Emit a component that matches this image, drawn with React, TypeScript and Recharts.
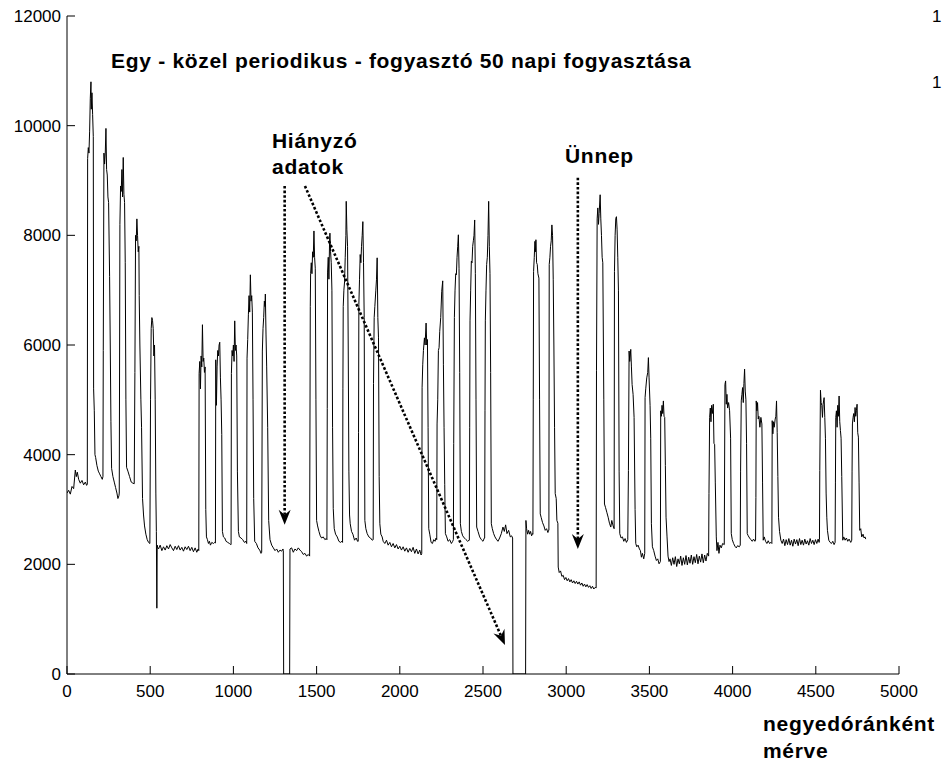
import React from 'react';
import { LineChart, Line, XAxis, YAxis, ReferenceLine } from 'recharts';

const FONT = "'Liberation Sans', Arial, Helvetica, sans-serif";

const xTicks = [0, 500, 1000, 1500, 2000, 2500, 3000, 3500, 4000, 4500, 5000];
const yTicks = [0, 2000, 4000, 6000, 8000, 10000, 12000];

type Pt = [number, number];

const week1: Pt[] = [
  [0,3300],[10,3350],[20,3280],[30,3420],[40,3380],[50,3720],[56,3600],[62,3680],[70,3550],[80,3480],[90,3530],[100,3450],[110,3500],[118,3440],
  [122,3460],[124,9400],[128,9600],[132,9500],[136,9900],[140,10500],[144,10800],[146,10300],[150,10600],[154,10200],[158,9800],[160,5200],[164,4800],[168,4000],[172,3950],[180,3800],[188,3700],[196,3650],[204,3600],[212,3550],
  [216,3600],[218,5900],[222,9500],[226,9300],[230,9500],[234,9950],[238,9200],[242,9100],[246,8700],[250,8600],[256,7250],[260,6000],[264,4600],[268,3750],[276,3600],[284,3500],[292,3400],[300,3300],[306,3200],[312,3250],
  [314,3300],[318,8200],[322,8900],[326,8800],[330,9200],[334,8700],[338,9420],[342,8750],[346,8600],[350,7500],[354,5000],[358,3770],[366,3700],[376,3600],[386,3500],[396,3480],[404,3470],
  [408,5500],[412,8000],[416,7900],[420,8300],[424,8000],[428,7700],[432,7800],[434,6900],[438,6000],[444,5000],[448,4500],[454,3200],[460,2900],[466,2700],[474,2550],[482,2450],[490,2400],[498,2380],
  [502,5000],[506,6300],[510,6500],[514,6450],[518,6300],[522,5800],[526,6000],[530,5000],[534,3300],[537,2600],[540,1200],[542,2350],[546,2300],
];

const week2: Pt[] = [
  [550,2280],[560,2350],[570,2250],[580,2320],[590,2260],[600,2340],[610,2280],[620,2360],[630,2300],[640,2250],[650,2330],[660,2270],[670,2340],[680,2260],[690,2310],[700,2240],[710,2320],[720,2270],[730,2330],[740,2250],[750,2310],[760,2230],[770,2300],[780,2220],[788,2280],
  [792,2250],[794,5480],[798,5700],[802,5200],[806,5800],[810,5600],[814,6370],[818,5700],[822,5760],[826,5500],[830,5600],[834,3000],[838,2500],[844,2450],[850,2380],[856,2420],[862,2350],[870,2400],[880,2380],[888,2400],
  [892,2390],[894,5730],[898,4900],[902,5600],[906,5900],[910,5800],[914,6000],[918,6050],[922,5400],[926,5000],[930,4370],[934,2600],[940,2500],[948,2480],[956,2420],[966,2400],[976,2380],[984,2360],
  [986,2360],[988,5480],[992,5900],[996,5800],[1000,6000],[1004,5700],[1008,6440],[1012,5900],[1016,6000],[1020,5800],[1024,3700],[1030,2600],[1036,2500],[1046,2480],[1056,2450],[1066,2400],[1076,2420],
  [1080,2380],[1082,5760],[1086,6100],[1090,6550],[1094,6900],[1098,6600],[1102,7280],[1106,6800],[1110,6900],[1114,6600],[1118,5000],[1122,3200],[1128,2420],[1138,2380],[1148,2300],[1158,2260],[1166,2200],
  [1170,2220],[1174,5890],[1178,6300],[1182,6500],[1186,6800],[1190,6700],[1192,6930],[1196,6200],[1200,5600],[1206,4500],[1212,2800],[1220,2450],[1230,2350],[1240,2300],[1250,2250],[1260,2280],[1270,2220],[1280,2260],[1290,2240],[1298,2280],
];

const week3: Pt[] = [
  [1300,2250],[1302,0],[1338,0],[1340,2280],[1350,2300],[1360,2220],[1370,2280],[1380,2250],[1390,2300],[1400,2260],[1410,2230],[1420,2180],[1430,2200],[1440,2150],[1450,2180],[1458,2150],
  [1462,6700],[1464,7300],[1468,7500],[1472,7300],[1476,7700],[1480,7600],[1484,8080],[1488,7600],[1492,7400],[1496,5000],[1500,2800],[1506,2700],[1514,2600],[1522,2520],[1530,2480],[1540,2500],[1550,2450],[1558,2470],
  [1562,2450],[1564,4840],[1566,7330],[1570,7600],[1574,7200],[1578,7900],[1580,8040],[1584,7700],[1588,7500],[1592,7000],[1596,4500],[1600,3020],[1606,2650],[1614,2550],[1624,2500],[1634,2420],[1644,2400],[1652,2420],
  [1656,2400],[1658,5200],[1660,6700],[1664,7000],[1668,7150],[1672,7600],[1676,8000],[1678,8620],[1682,8100],[1686,7800],[1690,6000],[1694,3700],[1698,2900],[1702,2740],[1710,2600],[1718,2550],[1728,2440],[1738,2480],[1746,2420],
  [1750,2420],[1752,4400],[1754,6740],[1758,7200],[1762,7650],[1766,7500],[1770,7800],[1774,8000],[1778,8250],[1782,7500],[1786,6500],[1790,2800],[1796,2650],[1804,2560],[1814,2500],[1824,2480],[1834,2440],
  [1840,2450],[1842,5300],[1846,6500],[1850,6700],[1856,7000],[1860,7200],[1864,7590],[1868,6500],[1872,6130],[1876,3600],[1880,2740],[1886,2550],[1894,2500],
];

const week4: Pt[] = [
  [1900,2420],[1910,2380],[1920,2440],[1930,2350],[1940,2400],[1950,2320],[1960,2380],[1970,2300],[1980,2360],[1990,2280],[2000,2330],[2010,2260],[2020,2320],[2030,2240],[2040,2300],[2050,2220],[2060,2290],[2070,2230],[2080,2310],[2090,2200],[2100,2280],[2110,2190],[2120,2260],[2128,2170],
  [2132,2200],[2134,5230],[2138,5650],[2142,5900],[2148,6130],[2152,6000],[2158,6400],[2162,6000],[2166,6100],[2170,4500],[2174,2650],[2180,2550],[2188,2400],[2196,2380],[2204,2450],[2212,2420],[2218,2480],
  [2222,2450],[2224,4560],[2228,5000],[2232,5900],[2236,5950],[2240,6250],[2246,6500],[2252,6980],[2258,7170],[2262,5650],[2266,4500],[2270,3460],[2274,2560],[2282,2500],[2290,2420],[2300,2450],[2310,2380],[2318,2420],
  [2322,2450],[2324,4200],[2328,6500],[2332,7000],[2336,7300],[2340,7280],[2344,7600],[2348,7800],[2352,8010],[2356,7400],[2360,5500],[2364,2740],[2370,2600],[2378,2520],[2388,2480],[2398,2450],[2408,2420],[2416,2440],
  [2418,2440],[2420,4500],[2422,6440],[2426,7000],[2430,7530],[2434,7500],[2438,7800],[2442,7900],[2446,8000],[2450,8280],[2454,7300],[2458,5000],[2462,2680],[2470,2600],[2480,2500],[2490,2450],[2500,2420],[2508,2480],
  [2510,2480],[2512,4800],[2514,6440],[2518,7000],[2522,7470],[2526,7600],[2530,8000],[2534,8620],[2538,7800],[2542,7300],[2546,5500],[2550,2740],[2556,2650],[2564,2560],[2572,2500],[2580,2460],[2590,2420],[2600,2480],[2610,2560],[2620,2680],[2628,2600],[2636,2720],[2644,2560],[2654,2620],[2664,2500],[2672,2520],[2678,2480],
];

const week5: Pt[] = [
  [2680,0],[2756,0],[2758,2800],[2762,2650],[2768,2550],[2774,2620],[2780,2550],[2786,2600],[2792,2520],[2798,2560],
  [2800,2550],[2802,5000],[2804,7340],[2808,7600],[2812,7890],[2816,7700],[2818,7920],[2822,7500],[2826,7470],[2830,7300],[2836,7220],[2840,5000],[2844,2920],[2850,2850],[2858,2760],[2866,2700],[2874,2620],[2882,2650],[2890,2580],[2894,2620],
  [2896,2620],[2898,7470],[2902,7600],[2906,7800],[2910,7900],[2914,8190],[2918,8000],[2922,7200],[2926,6000],[2930,4500],[2934,3290],[2940,3200],[2944,2800],[2950,2750],
  [2952,1950],[2958,1850],[2966,1880],[2974,1780],[2982,1800],[2990,1720],[2998,1760],[3006,1700],[3014,1740],[3022,1680],[3030,1720],[3038,1660],[3046,1700],[3054,1650],[3062,1690],[3070,1640],[3078,1680],[3086,1620],[3094,1660],[3102,1600],[3110,1640],[3118,1590],[3126,1630],[3134,1580],[3142,1610],[3150,1560],[3158,1600],[3166,1550],[3174,1580],[3180,1570],
];

const week6: Pt[] = [
  [3182,5530],[3186,8300],[3190,8500],[3194,8200],[3198,8400],[3204,8740],[3208,8300],[3212,8000],[3216,7600],[3220,7500],[3226,5000],[3230,3100],[3236,3040],[3244,2950],[3252,2860],[3260,2750],[3268,2680],[3274,2800],[3282,2700],[3288,2650],
  [3290,7340],[3294,8000],[3298,8310],[3302,8340],[3306,8100],[3310,7590],[3314,7000],[3318,3700],[3322,2560],[3330,2480],[3338,2500],[3346,2420],[3354,2470],[3362,2400],[3370,2450],
  [3374,3710],[3378,5890],[3382,5700],[3388,5920],[3392,5600],[3396,5280],[3402,5100],[3408,4680],[3414,3000],[3418,2380],[3424,2320],[3432,2350],[3440,2280],[3446,2250],[3452,2130],[3458,2200],[3466,2100],[3472,2200],
  [3474,5040],[3478,5200],[3484,5400],[3490,5500],[3494,5770],[3498,5400],[3504,4900],[3508,4300],[3512,2740],[3518,2320],[3526,2250],[3534,2150],[3542,2070],[3550,2100],[3558,2010],[3566,2050],
  [3568,4800],[3572,4700],[3576,4900],[3580,4750],[3584,4980],[3588,4700],[3592,4680],[3596,3800],[3600,2860],[3606,2500],[3612,2150],[3618,2050],
];

const week7: Pt[] = [
  [3624,2100],[3632,1980],[3640,2120],[3648,2000],[3656,2140],[3664,1960],[3672,2100],[3680,2010],[3688,2150],[3696,1980],[3704,2120],[3712,2000],[3720,2160],[3728,1990],[3736,2130],[3744,2020],[3752,2170],[3760,2000],[3768,2140],[3776,2030],[3784,2180],[3792,2010],[3800,2150],[3808,2040],[3816,2190],[3824,2030],[3832,2170],[3840,2060],[3848,2200],[3856,2150],
  [3858,3290],[3862,4680],[3866,4850],[3870,4600],[3874,4900],[3878,4750],[3884,4920],[3888,4200],[3892,4190],[3896,3500],[3902,2500],[3906,2250],[3912,2400],[3918,2200],[3924,2350],[3932,2300],[3940,2380],[3950,2360],
  [3954,5280],[3958,5345],[3962,4920],[3966,5100],[3970,4850],[3976,4950],[3982,4800],[3988,4300],[3992,2560],[3998,2450],[4006,2380],[4014,2330],[4022,2300],[4030,2340],[4040,2320],[4046,2350],
  [4048,3700],[4052,4980],[4056,5100],[4060,5224],[4064,4950],[4068,5300],[4072,5560],[4076,5160],[4080,5000],[4084,4200],[4088,2560],[4094,2520],[4102,2480],[4110,2450],[4118,2420],[4126,2460],[4134,2420],[4138,2440],
  [4140,3220],[4142,4980],[4146,4800],[4150,4950],[4154,4650],[4158,4700],[4164,4500],[4170,4680],[4176,4560],[4180,3500],[4184,2440],[4190,2500],[4198,2420],[4206,2380],[4214,2430],[4222,2380],[4230,2400],[4236,2380],
  [4238,4620],[4242,4380],[4246,4600],[4250,4500],[4256,4650],[4260,4700],[4264,4980],[4268,4400],[4272,3600],[4276,2860],[4282,2600],[4290,2440],
];

const week8: Pt[] = [
  [4298,2380],[4306,2460],[4314,2340],[4322,2450],[4330,2360],[4338,2470],[4346,2350],[4354,2440],[4362,2330],[4370,2460],[4378,2370],[4386,2450],[4394,2340],[4402,2470],[4410,2360],[4418,2440],[4426,2350],[4434,2460],[4442,2370],[4450,2430],[4458,2350],[4466,2470],[4474,2380],[4482,2440],[4490,2360],[4498,2450],[4506,2380],[4514,2460],[4520,2400],
  [4522,2450],[4524,3710],[4528,5175],[4532,4950],[4536,4900],[4540,4680],[4544,4920],[4550,5040],[4554,4680],[4558,4300],[4562,3300],[4566,2860],[4570,2620],[4578,2440],[4586,2400],[4594,2380],[4602,2420],[4610,2360],[4616,2400],
  [4618,3500],[4620,4680],[4624,4800],[4628,4500],[4632,4900],[4636,4700],[4640,5070],[4644,4600],[4648,4440],[4652,4300],[4656,3600],[4662,2440],[4668,2500],[4676,2440],[4684,2480],[4692,2420],[4700,2460],[4710,2400],[4716,2440],
  [4718,3700],[4720,4560],[4724,4680],[4728,4750],[4732,4600],[4736,4860],[4740,4700],[4744,4800],[4748,4920],[4752,4400],[4756,4320],[4760,3500],[4764,2620],[4770,2650],[4776,2500],[4784,2550],[4790,2480],[4796,2500],[4800,2460],
];

const series = [...week1, ...week2, ...week3, ...week4, ...week5, ...week6, ...week7, ...week8].map(([q, v]) => ({ q, v }));

// annotation arrows in data units: [fromX, fromY, toX, toY]
const arrowMissingA = [1308, 8900, 1308, 2720];
const arrowMissingB = [1430, 8900, 2632, 530];
const arrowHoliday = [3070, 9050, 3070, 2280];

const DottedArrow = (props: any) => {
  const { x1, y1, x2, y2 } = props;
  const dx = x2 - x1;
  const dy = y2 - y1;
  const len = Math.hypot(dx, dy) || 1;
  const ux = dx / len;
  const uy = dy / len;
  const L = 15;
  const W = 6;
  const N = 10;
  const bx = x2 - ux * L;
  const by = y2 - uy * L;
  const nx = x2 - ux * N;
  const ny = y2 - uy * N;
  const px = -uy;
  const py = ux;
  const pts = `${x2},${y2} ${bx + px * W},${by + py * W} ${nx},${ny} ${bx - px * W},${by - py * W}`;
  return (
    <g>
      <line x1={x1} y1={y1} x2={nx} y2={ny} stroke="#000" strokeWidth={2.6} strokeDasharray="2.6 2" />
      <polygon points={pts} fill="#000" />
    </g>
  );
};

const LeftTick = (props: any) => {
  const { x, y, payload } = props;
  return (
    <g>
      <line x1={x + 6} y1={y} x2={x + 14} y2={y} stroke="#000" strokeWidth={1} />
      <text x={x} y={y + 6} textAnchor="end" fontSize={17} fontFamily={FONT} fill="#000">
        {payload.value}
      </text>
    </g>
  );
};

const BottomTick = (props: any) => {
  const { x, y, payload } = props;
  return (
    <g>
      <line x1={x} y1={y} x2={x} y2={y - 8} stroke="#000" strokeWidth={1} />
      <text x={x} y={y + 23} textAnchor="middle" fontSize={17} fontFamily={FONT} fill="#000">
        {payload.value}
      </text>
    </g>
  );
};

const TopTick = (props: any) => {
  const { x, y } = props;
  return <line x1={x} y1={y} x2={x} y2={y + 8} stroke="#000" strokeWidth={1} />;
};

const RightTick = (props: any) => {
  const { x, y } = props;
  return <line x1={x} y1={y} x2={x - 8} y2={y} stroke="#000" strokeWidth={1} />;
};

const boldText = { fontFamily: FONT, fontWeight: 700, fontSize: 21, letterSpacing: 0.7, fill: '#000' } as const;

export default function App() {
  return (
    <div style={{ position: 'absolute', left: 0, top: 0, width: 942, height: 764, background: '#fff' }}>
      <LineChart width={942} height={764} data={series} margin={{ top: 16, right: 43, bottom: 0, left: 0 }}>
        <XAxis
          dataKey="q"
          type="number"
          domain={[0, 5000]}
          ticks={xTicks}
          interval={0}
          height={90}
          tickSize={0}
          tickMargin={0}
          tickLine={false}
          axisLine={{ stroke: '#000', strokeWidth: 1 }}
          tick={<BottomTick />}
          allowDataOverflow
        />
        <XAxis
          xAxisId="top"
          orientation="top"
          dataKey="q"
          type="number"
          domain={[0, 5000]}
          ticks={xTicks}
          interval={0}
          height={0}
          tickSize={0}
          tickMargin={0}
          tickLine={false}
          axisLine={{ stroke: '#000', strokeWidth: 1 }}
          tick={<TopTick />}
          allowDataOverflow
        />
        <YAxis
          type="number"
          domain={[0, 12000]}
          ticks={yTicks}
          interval={0}
          width={67}
          tickSize={0}
          tickMargin={6}
          tickLine={false}
          axisLine={{ stroke: '#000', strokeWidth: 1 }}
          tick={<LeftTick />}
          allowDataOverflow
        />
        <YAxis
          yAxisId="right"
          orientation="right"
          type="number"
          domain={[0, 12000]}
          ticks={yTicks}
          interval={0}
          width={0}
          tickSize={0}
          tickMargin={0}
          tickLine={false}
          axisLine={{ stroke: '#000', strokeWidth: 1 }}
          tick={<RightTick />}
          allowDataOverflow
        />
        <Line
          type="linear"
          dataKey="v"
          stroke="#000"
          strokeWidth={1}
          dot={false}
          activeDot={false}
          isAnimationActive={false}
        />
        <ReferenceLine
          segment={[{ x: arrowMissingA[0], y: arrowMissingA[1] }, { x: arrowMissingA[2], y: arrowMissingA[3] }]}
          shape={DottedArrow}
          ifOverflow="visible"
        />
        <ReferenceLine
          segment={[{ x: arrowMissingB[0], y: arrowMissingB[1] }, { x: arrowMissingB[2], y: arrowMissingB[3] }]}
          shape={DottedArrow}
          ifOverflow="visible"
        />
        <ReferenceLine
          segment={[{ x: arrowHoliday[0], y: arrowHoliday[1] }, { x: arrowHoliday[2], y: arrowHoliday[3] }]}
          shape={DottedArrow}
          ifOverflow="visible"
        />
        <text x={111} y={68} style={boldText}>Egy - közel periodikus - fogyasztó 50 napi fogyasztása</text>
        <text x={272} y={148} style={boldText}>Hiányzó</text>
        <text x={272} y={174} style={boldText}>adatok</text>
        <text x={565} y={163} style={boldText}>Ünnep</text>
        <text x={763} y={731} style={boldText}>negyedóránként</text>
        <text x={763} y={758} style={boldText}>mérve</text>
        <text x={932} y={22} fontSize={17} fontFamily={FONT} fill="#000">1</text>
        <text x={932} y={88} fontSize={17} fontFamily={FONT} fill="#000">1</text>
      </LineChart>
    </div>
  );
}
